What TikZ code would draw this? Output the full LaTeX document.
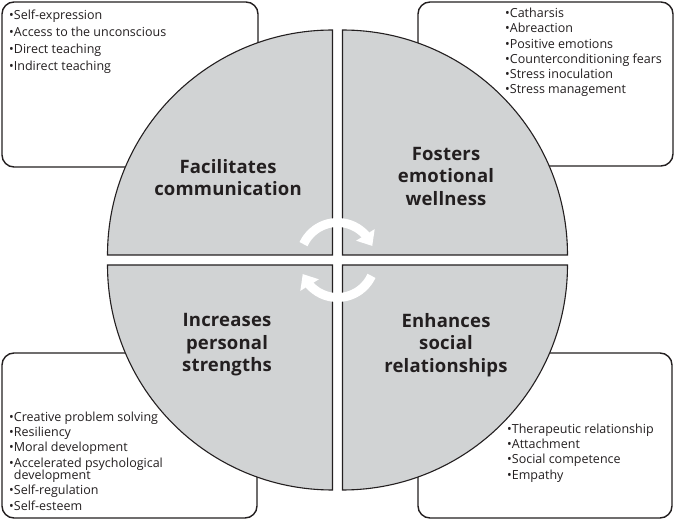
\documentclass[tikz,border=0pt]{standalone}
\usepackage{fontspec}
\setmainfont{Open Sans}
\usetikzlibrary{calc,arrows.meta,bending}
\definecolor{quadgray}{HTML}{D1D3D4}
\definecolor{inkline}{HTML}{231F20}
\tikzset{
  listbox/.style={draw=inkline, line width=1.4pt, fill=white, rounded corners=12pt},
  quarter/.style={draw=inkline, line width=1.1pt, fill=quadgray},
  title/.style={align=center, inner sep=0pt, text=inkline, font=\fontsize{18.5}{22.5}\selectfont\bfseries\addfontfeature{LetterSpace=1}},
  items/.style={align=left, anchor=base west, inner sep=0pt, text=inkline, font=\fontsize{12.5}{15.3}\selectfont},
  cycler/.style={white, line width=9pt, -{Triangle[width=21pt,length=13pt,flex]}}
}
\begin{document}
\begin{tikzpicture}[x=1pt,y=1pt]
    \useasboundingbox (0,0) rectangle (675,520);
    % Boxes
    \draw[listbox] (2,353) rectangle (258,518);
    \draw[listbox] (418,354) rectangle (673,518);
    \draw[listbox] (2,2) rectangle (257,167);
    \draw[listbox] (418,2) rectangle (672,167);
    % Circle in four quarters
    \coordinate (c) at (337.5,260);
    \foreach \ang in {0,90,180,270}
      \draw[quarter] ($(c)+(\ang+45:7.07)$) -- ++(\ang:225) arc[start angle=\ang, delta angle=90, radius=225] -- cycle;
    % Cycle arrows
    \draw[cycler] ($(c)+(155:37.5)$) arc[start angle=155, end angle=22, radius=37.5];
    \draw[cycler] ($(c)+(335:37.5)$) arc[start angle=335, end angle=202, radius=37.5];
    % Titles
    \node[title] (comm) at (228,342.5) {Facilitates\\communication};
    \node[title] (emo) at (446,344) {Fosters\\emotional\\wellness};
    \node[title] (pers) at (227,175) {Increases\\personal\\strengths};
    \node[title] (soc) at (446,175) {Enhances\\social\\relationships};
    % Lists (anchored at the last baseline)
    \node[items, font=\fontsize{12.5}{17}\selectfont] (commlist) at (9,449.3)
      {•Self-expression\\•Access to the unconscious\\•Direct teaching\\•Indirect teaching};
    \node[items] (emolist) at (505,426)
      {•Catharsis\\•Abreaction\\•Positive emotions\\•Counterconditioning fears\\•Stress inoculation\\•Stress management};
    \node[items] (perslist) at (9,10)
      {•Creative problem solving\\•Resiliency\\•Moral development\\•Accelerated psychological\\[-3pt]\phantom{•}development\\•Self-regulation\\•Self-esteem};
    \node[items] (soclist) at (507,41)
      {•Therapeutic relationship\\•Attachment\\•Social competence\\•Empathy};
\end{tikzpicture}
\end{document}
